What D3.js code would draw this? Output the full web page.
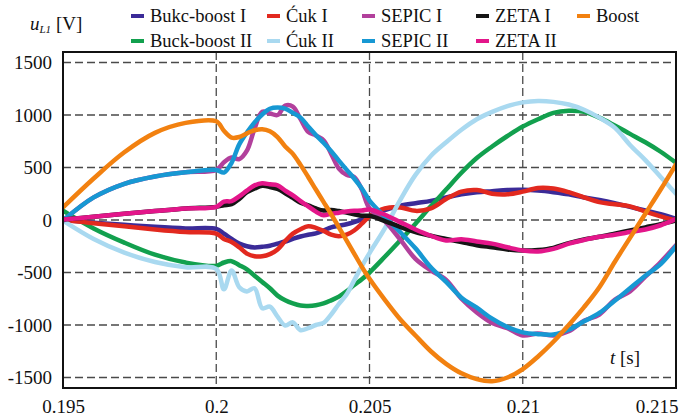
<!DOCTYPE html>
<html>
<head>
<meta charset="utf-8">
<script src="https://cdn.jsdelivr.net/npm/d3@7"></script>
<style>
  body { margin: 0; background: #fff; }
  svg { display: block; }
  svg text { font-family: 'Liberation Serif', 'DejaVu Serif', 'Noto Serif', serif; fill: #111; }
</style>
</head>
<body>
<svg id="chart" width="679" height="418"></svg>
<script>
// Sample instants [s]: 1 ms steps before 0.2 s, 0.25 ms over the transient, 0.5 ms after 0.205 s
const time = [0.195,0.196,0.197,0.198,0.199,0.2,
  0.20025,0.2005,0.20075,0.201,0.20125,0.2015,0.20175,0.202,0.20225,0.2025,
  0.20275,0.203,0.20325,0.2035,0.20375,0.204,0.20425,0.2045,0.20475,0.205,
  0.2055,0.206,0.2065,0.207,0.2075,0.208,0.2085,0.209,0.2095,0.21,
  0.2105,0.211,0.2115,0.212,0.2125,0.213,0.2135,0.214,0.2145,0.215];

// Inductor voltage u_L1 [V] per converter
const buckBoostI = [0,-25,-45,-65,-80,-85,
  -130,-180,-225,-250,-262,-255,-245,-225,-205,-180,-157,-140,-128,-100,-70,-55,-40,-20,5,
  35,
  95,135,160,182,215,245,265,275,285,287,280,265,245,215,190,160,125,90,55,10];
const buckBoostII = [90,-80,-215,-330,-405,-437,
  -405,-392,-430,-470,-530,-590,-650,-720,-765,-795,-815,-818,-812,-795,-765,-730,-680,-620,-565,
  -500,
  -350,-195,-35,130,290,450,590,700,800,890,960,1020,1040,1030,975,900,820,740,650,545];
const cukI = [0,-30,-60,-90,-115,-130,
  -180,-210,-260,-320,-345,-345,-325,-280,-200,-130,-88,-60,-75,-104,-140,-155,-140,-100,-35,
  35,
  110,120,87,110,200,270,285,250,245,270,305,300,265,215,170,150,130,80,35,-5];
const cukII = [-5,-180,-310,-400,-450,-465,
  -660,-480,-640,-680,-650,-840,-825,-920,-1005,-975,-1050,-1030,-1000,-980,-900,-800,-710,-575,-440,
  -315,
  -80,190,430,610,740,860,960,1030,1085,1120,1133,1125,1100,1050,975,880,715,570,410,250];
const sepicI = [-5,215,345,415,455,477,
  550,595,580,660,870,1030,1015,1000,1090,1080,960,840,805,760,630,490,430,410,290,
  110,
  -10,-185,-370,-480,-570,-750,-880,-980,-1030,-1100,-1080,-1100,-1060,-960,-900,-760,-680,-540,-400,-240];
const sepicII = [-5,215,345,415,455,477,
  452,545,720,833,930,1005,1060,1072,1060,1020,975,890,810,735,655,565,480,395,300,
  185,
  30,-115,-270,-450,-590,-740,-835,-940,-1020,-1070,-1087,-1090,-1045,-965,-885,-770,-650,-530,-420,-250];
const zetaI = [5,30,60,85,110,125,
  140,150,200,265,300,325,315,295,255,210,165,140,110,90,95,85,70,55,40,
  40,
  -10,-65,-115,-150,-180,-210,-240,-260,-280,-290,-285,-265,-220,-185,-160,-130,-100,-70,-40,-5];
const zetaII = [5,30,60,85,110,125,
  175,180,225,280,330,350,340,330,280,235,180,130,80,45,60,70,80,87,90,
  100,
  50,-20,-90,-150,-195,-183,-205,-225,-260,-290,-300,-275,-225,-190,-160,-140,-115,-90,-50,8];
const boost = [120,395,645,830,925,940,
  850,785,790,825,855,865,845,790,700,630,525,410,290,173,55,-70,-195,-320,-445,
  -560,
  -760,-945,-1100,-1250,-1370,-1460,-1515,-1535,-1500,-1420,-1300,-1160,-1000,-830,-640,-400,-170,60,290,530];

// Axis ticks
const xTicks = [0.195, 0.2, 0.205, 0.21, 0.215];
const xTickLabels = ["0.195", "0.2", "0.205", "0.21", "0.215"];
const yTicks = [-1500, -1000, -500, 0, 500, 1000, 1500];
const yTickLabels = ["-1500", "-1000", "-500", "0", "500", "1000", "1500"];

// Series names and colours, in drawing order
const names  = ["Bukc-boost I", "Buck-boost II", "Ćuk I", "Ćuk II", "SEPIC I", "SEPIC II", "ZETA I", "ZETA II", "Boost"];
const colors = ["#3b2b98", "#12a04e", "#e2291f", "#a9d9f0", "#b2409c", "#1798d3", "#151515", "#e3168a", "#f28110"];
const values = [buckBoostI, buckBoostII, cukI, cukII, sepicI, sepicII, zetaI, zetaII, boost];

const series = names.map((name, i) => ({
  name, color: colors[i],
  points: time.map((t, j) => ({ t, v: values[i][j] }))
}));

const FONT = "'Liberation Serif', 'DejaVu Serif', 'Noto Serif', serif";
const plot = { left: 63, right: 676, top: 52, bottom: 388 };
const x = d3.scaleLinear().domain([0.195, 0.215]).range([plot.left, plot.right]);
const y = d3.scaleLinear().domain([-1600, 1600]).range([plot.bottom, plot.top]);

const svg = d3.select("#chart");

svg.append("defs").append("clipPath").attr("id", "plotClip")
  .append("rect")
  .attr("x", plot.left).attr("y", plot.top)
  .attr("width", plot.right - plot.left).attr("height", plot.bottom - plot.top);

// Dashed grid
const grid = svg.append("g").attr("stroke", "#4a4a4a").attr("stroke-width", 1.3).attr("stroke-dasharray", "8,4");
grid.selectAll("line.h").data(yTicks).join("line").attr("class", "h")
  .attr("x1", plot.left).attr("x2", plot.right)
  .attr("y1", d => y(d)).attr("y2", d => y(d));
grid.selectAll("line.v").data(xTicks.slice(1, -1)).join("line").attr("class", "v")
  .attr("y1", plot.top).attr("y2", plot.bottom)
  .attr("x1", d => x(d)).attr("x2", d => x(d));

// Curves
const line = d3.line()
  .x(d => x(d.t)).y(d => y(d.v))
  .curve(d3.curveCatmullRom.alpha(0.5));

svg.append("g").attr("clip-path", "url(#plotClip)")
  .selectAll("path").data(series).join("path")
  .attr("d", d => line(d.points))
  .attr("fill", "none")
  .attr("stroke", d => d.color)
  .attr("stroke-width", 4.5)
  .attr("stroke-linejoin", "round")
  .attr("stroke-linecap", "round");

// Frame
svg.append("rect")
  .attr("x", plot.left).attr("y", plot.top)
  .attr("width", plot.right - plot.left).attr("height", plot.bottom - plot.top)
  .attr("fill", "none").attr("stroke", "#111").attr("stroke-width", 2);

// Axes (labels only)
const yAxis = svg.append("g").attr("transform", `translate(${plot.left},0)`)
  .call(d3.axisLeft(y).tickValues(yTicks).tickFormat((d, i) => yTickLabels[i]).tickSize(0).tickPadding(11));
yAxis.attr("font-family", FONT).attr("font-size", 19);
yAxis.select(".domain").remove();
yAxis.selectAll("text").style("font-family", FONT).attr("font-size", 19).attr("fill", "#111");

const xAxis = svg.append("g").attr("transform", `translate(0,${plot.bottom})`)
  .call(d3.axisBottom(x).tickValues(xTicks).tickFormat((d, i) => xTickLabels[i]).tickSize(0).tickPadding(12));
xAxis.attr("font-family", FONT).attr("font-size", 19);
xAxis.select(".domain").remove();
xAxis.selectAll("text").style("font-family", FONT).attr("font-size", 19).attr("fill", "#111");
xAxis.selectAll(".tick").filter(d => d === 0.215).select("text")
  .attr("text-anchor", "end").attr("x", 2);

// Axis titles
const yTitle = svg.append("text").attr("x", 30).attr("y", 30).attr("font-size", 19).style("font-family", FONT);
yTitle.append("tspan").attr("font-style", "italic").text("u");
yTitle.append("tspan").attr("font-style", "italic").attr("font-size", 11).attr("dy", 3).text("L1");
yTitle.append("tspan").attr("dy", -3).text(" [V]");

const xTitle = svg.append("text").attr("x", 610).attr("y", 364).attr("font-size", 19).style("font-family", FONT);
xTitle.append("tspan").attr("font-style", "italic").text("t");
xTitle.append("tspan").text(" [s]");

// Legend: five columns, two rows
const legendCols = [131, 267, 362, 476, 577];
const legendRows = [16, 41];
const legendLayout = [
  ["Bukc-boost I", 0, 0], ["Buck-boost II", 0, 1],
  ["Ćuk I", 1, 0], ["Ćuk II", 1, 1],
  ["SEPIC I", 2, 0], ["SEPIC II", 2, 1],
  ["ZETA I", 3, 0], ["ZETA II", 3, 1],
  ["Boost", 4, 0]
];
const legend = svg.append("g");
legendLayout.forEach(([name, c, r]) => {
  const s = series.find(d => d.name === name);
  const g = legend.append("g").attr("transform", `translate(${legendCols[c]},${legendRows[r]})`);
  g.append("line").attr("x1", 0).attr("x2", 13).attr("y1", 0).attr("y2", 0)
    .attr("stroke", s.color).attr("stroke-width", 4);
  g.append("text").attr("x", 19).attr("y", 6).attr("font-size", 18.5).style("font-family", FONT).text(name);
});
</script>
</body>
</html>
